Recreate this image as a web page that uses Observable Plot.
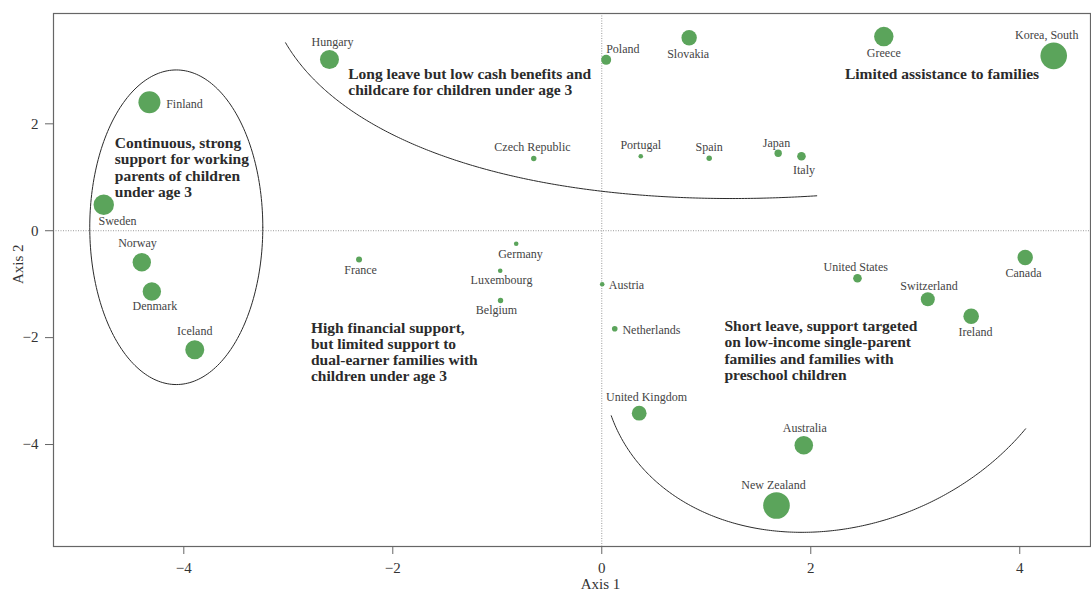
<!DOCTYPE html>
<html>
<head>
<meta charset="utf-8">
<script src="https://cdn.jsdelivr.net/npm/d3@7"></script>
<script src="https://cdn.jsdelivr.net/npm/@observablehq/plot@0.6"></script>
<style>
  html, body { margin: 0; padding: 0; background: #fff; }
  #chart svg { display: block; }
</style>
</head>
<body>
<div id="chart"></div>
<script>
// ---- data ----
const countries = ["Hungary","Finland","Sweden","Norway","Denmark","Iceland","France","Czech Republic","Poland","Slovakia","Portugal","Spain","Germany","Luxembourg","Austria","Belgium","Netherlands","United Kingdom","Japan","Italy","Greece","Korea, South","United States","Canada","Switzerland","Ireland","Australia","New Zealand"];
const axis1 = [-2.606,-4.329,-4.766,-4.402,-4.306,-3.895,-2.323,-0.651,0.042,0.836,0.373,1.028,-0.819,-0.972,0.004,-0.969,0.124,0.358,1.688,1.911,2.699,4.325,2.447,4.052,3.120,3.535,1.933,1.672];
const axis2 = [3.203,2.404,0.485,-0.589,-1.137,-2.228,-0.539,1.351,3.197,3.609,1.394,1.356,-0.245,-0.750,-1.001,-1.306,-1.835,-3.414,1.450,1.394,3.633,3.272,-0.889,-0.501,-1.282,-1.600,-4.013,-5.141];
const weight = [9.5,11,10.2,9.2,9.2,9.5,3,2.7,5,7.7,2.3,2.7,2.3,2.3,2.3,2.7,2.8,7.4,3.7,4.3,9.7,13.3,4.3,7.7,7,7.8,9.3,13.3];

const xTicks = [-4,-2,0,2,4];
const yTicks = [-4,-2,0,2];

const noteText = [
  "Continuous, strong\nsupport for working\nparents of children\nunder age 3",
  "Long leave but low cash benefits and\nchildcare for children under age 3",
  "Limited assistance to families",
  "High financial support,\nbut limited support to\ndual-earner families with\nchildren under age 3",
  "Short leave, support targeted\non low-income single-parent\nfamilies and families with\npreschool children"
];
const noteX = [-4.660,-2.426,2.327,-2.783,1.174];
const noteY = [1.185,2.791,2.935,-2.264,-2.236];

// grouping outlines: centre, two conjugate semi-axes (data units), angle range (deg)
const groupCurves = [
  {cx:-4.072, cy:0.065, ux:0.828, uy:0, vx:0, vy:2.943, t0:0, t1:360},
  {cx:3.609, cy:7.239, ux:6.802, uy:2.891, vx:0.664, vy:-5.974, t0:108.7, t1:171.7},
  {cx:2.273, cy:-1.858, ux:2.159, uy:1.723, vx:0.703, vy:-3.370, t0:56.3, t1:182}
];

// ---- label placement (pixel offsets, anchor) ----
const labelPlace = {
  "Hungary":[3,-17], "Finland":[16.7,1.6,"start"], "Sweden":[13.7,16.4], "Norway":[-4.3,-19],
  "Denmark":[3,15], "Iceland":[0,-18.6], "France":[1.5,11], "Czech Republic":[-1.3,-11.3],
  "Poland":[0,-11,"start"], "Slovakia":[-1,16], "Portugal":[0,-11], "Spain":[0,-10.7],
  "Germany":[4.3,10.7], "Luxembourg":[1.3,9], "Austria":[6.6,0.6,"start"], "Belgium":[-4,9.3],
  "Netherlands":[7.7,1,"start"], "United Kingdom":[7.3,-16], "Japan":[-1.7,-10], "Italy":[2.5,14.3],
  "Greece":[0,17], "Korea, South":[-7,-21], "United States":[-1.7,-11], "Canada":[-1.7,15.7],
  "Switzerland":[1.2,-12.7], "Ireland":[4.3,15.6], "Australia":[1,-17], "New Zealand":[-3,-20.7]
};

const data = countries.map((c, i) => ({country: c, x: axis1[i], y: axis2[i], w: weight[i]}));
const notes = noteText.map((t, i) => ({text: t, x: noteX[i], y: noteY[i]}));

function arcPoints(g, n = 240) {
  const pts = [];
  for (let k = 0; k <= n; k++) {
    const t = (g.t0 + (g.t1 - g.t0) * k / n) * Math.PI / 180;
    pts.push({x: g.cx + Math.cos(t) * g.ux + Math.sin(t) * g.vx,
              y: g.cy + Math.cos(t) * g.uy + Math.sin(t) * g.vy});
  }
  return pts;
}

const font = "'Liberation Serif', 'DejaVu Serif', serif";

const chart = Plot.plot({
  width: 1091,
  height: 597,
  marginLeft: 53,
  marginRight: 1,
  marginTop: 13,
  marginBottom: 51,
  style: {fontFamily: font, background: "#fff", overflow: "visible"},
  x: {domain: [-5.247, 4.677]},
  y: {domain: [-5.908, 4.064]},
  r: {type: "identity"},
  marks: [
    Plot.ruleX([0], {stroke: "#9a9a9a", strokeWidth: 1, strokeDasharray: "1,1.5"}),
    Plot.ruleY([0], {stroke: "#9a9a9a", strokeWidth: 1, strokeDasharray: "1,1.5"}),
    ...groupCurves.map(g => Plot.line(arcPoints(g), {x: "x", y: "y", stroke: "#2a2a2a", strokeWidth: 1})),
    Plot.dot(data, {x: "x", y: "y", r: "w", fill: "#5ba45b", stroke: "none"}),
    ...data.map(d => {
      const p = labelPlace[d.country];
      return Plot.text([d], {x: "x", y: "y", text: "country", dx: p[0], dy: p[1],
        textAnchor: p[2] || "middle", fontSize: 12, fill: "#444"});
    }),
    Plot.text(notes, {x: "x", y: "y", text: "text", textAnchor: "start", lineAnchor: "middle",
      fontSize: 15.5, fontWeight: "bold", lineHeight: 1.045, fill: "#2b2b2b"}),
    Plot.frame({stroke: "#666", strokeWidth: 1.2}),
    Plot.axisX({ticks: xTicks, tickSize: 8, tickPadding: 8, fontSize: 15, label: null, stroke: "#666", fill: "#333"}),
    Plot.axisY({ticks: yTicks, tickSize: 8, tickPadding: 7, fontSize: 15, label: null, stroke: "#666", fill: "#333"}),
    Plot.text(["Axis 1"], {frameAnchor: "bottom", text: d => d, dx: 28.5, dy: 42.5, fontSize: 15, fill: "#333"}),
    Plot.text(["Axis 2"], {frameAnchor: "left", text: d => d, rotate: -90, dx: -35, dy: 4, fontSize: 15, fill: "#333"})
  ]
});

document.getElementById("chart").appendChild(chart);
</script>
</body>
</html>
